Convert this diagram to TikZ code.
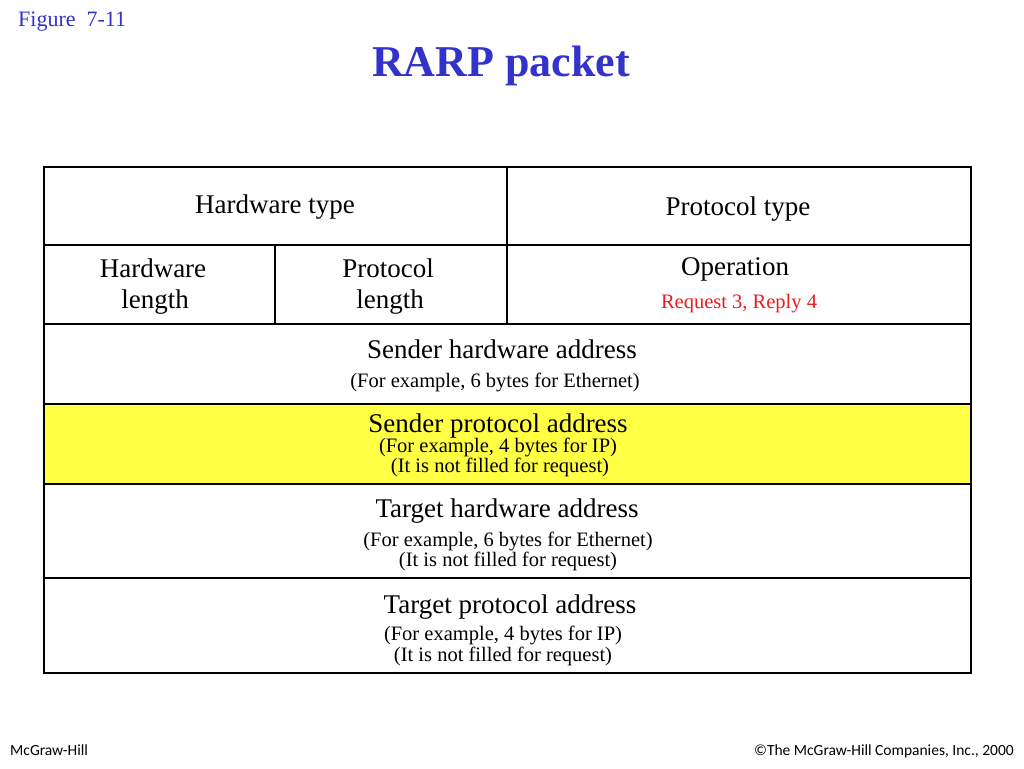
\documentclass[tikz,border=0pt]{standalone}
\usepackage{fontspec}
\setmainfont{Liberation Serif}
\newfontfamily\footfont{Carlito}
\definecolor{figblue}{RGB}{51,51,204}
\definecolor{hiyellow}{RGB}{255,255,68}
\definecolor{opred}{RGB}{230,30,30}
\begin{document}
\begin{tikzpicture}[x=1pt,y=-1pt,
  cellline/.style={draw=black,line width=1.6pt},
  big/.style={anchor=base,inner sep=0pt,font=\fontsize{27}{30}\selectfont},
  small/.style={anchor=base,inner sep=0pt,font=\fontsize{20.5}{22}\selectfont},
  foot/.style={anchor=base,inner sep=0pt,font=\footfont\fontsize{15.5}{17}\selectfont}]
\useasboundingbox[fill=white] (0,0) rectangle (1024,768);
% header
\node[anchor=base west,inner sep=0pt,text=figblue,font=\fontsize{22}{24}\selectfont] (fig) at (18,27) {Figure\ \ 7-11};
\node[anchor=base,inner sep=0pt,text=figblue,font=\bfseries\fontsize{44}{48}\selectfont] (title) at (501,76) {RARP packet};
% yellow row
\fill[hiyellow] (44,404) rectangle (971,484);
% table lines
\draw[cellline] (44,167) rectangle (971,673);
\draw[cellline] (44,245) -- (971,245);
\draw[cellline] (44,324) -- (971,324);
\draw[cellline] (44,404) -- (971,404);
\draw[cellline] (44,484) -- (971,484);
\draw[cellline] (44,578) -- (971,578);
\draw[cellline] (507,167) -- (507,324);
\draw[cellline] (275,245) -- (275,324);
% texts
\node[big] (hwtype) at (275,213) {Hardware type};
\node[big] (prtype) at (738,215) {Protocol type};
\node[big] (hwlen1) at (153,277) {Hardware};
\node[big] (hwlen2) at (155,308) {length};
\node[big] (prlen1) at (388,277) {Protocol};
\node[big] (prlen2) at (390,308) {length};
\node[big] (oper) at (735,275) {Operation};
\node[small,text=opred] (opval) at (739,308) {Request 3, Reply 4};
\node[big] (sha) at (502,358) {Sender hardware address};
\node[small] (sha2) at (495,387) {(For example, 6 bytes for Ethernet)};
\node[big] (spa) at (498,432) {Sender protocol address};
\node[small] (spa2) at (498,452) {(For example, 4 bytes for IP)};
\node[small] (spa3) at (500,472) {(It is not filled for request)};
\node[big] (tha) at (507,517) {Target hardware address};
\node[small] (tha2) at (508,546) {(For example, 6 bytes for Ethernet)};
\node[small] (tha3) at (508,566) {(It is not filled for request)};
\node[big] (tpa) at (510,613) {Target protocol address};
\node[small] (tpa2) at (503,640) {(For example, 4 bytes for IP)};
\node[small] (tpa3) at (503,661) {(It is not filled for request)};
% footer
\node[foot,anchor=base west] (mgh) at (10,755) {McGraw-Hill};
\node[foot,anchor=base east] (copy) at (1014,755) {©The McGraw-Hill Companies, Inc., 2000};
\end{tikzpicture}
\end{document}
